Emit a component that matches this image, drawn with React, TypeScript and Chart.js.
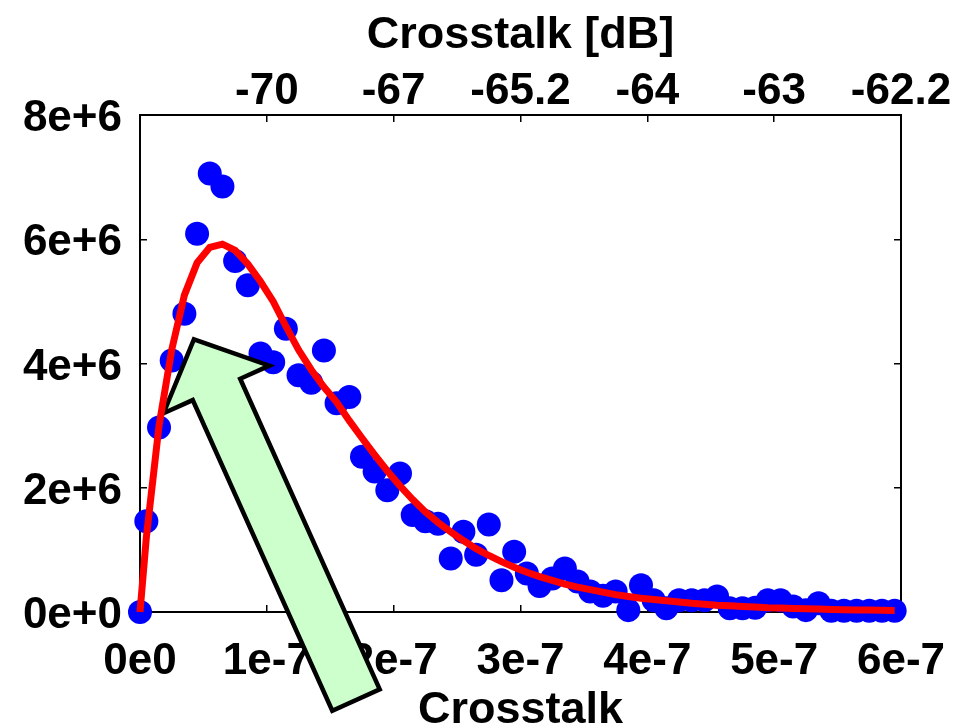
import { useEffect, useRef } from "react";
import { Chart, registerables } from "chart.js";

Chart.register(...registerables);

// Crosstalk (linear) at each bin centre
const crosstalk = [
  0, 0.5e-8, 1.5e-8, 2.5e-8, 3.5e-8, 4.5e-8, 5.5e-8, 6.5e-8, 7.5e-8, 8.5e-8, 9.5e-8,
  10.5e-8, 11.5e-8, 12.5e-8, 13.5e-8, 14.5e-8, 15.5e-8, 16.5e-8, 17.5e-8, 18.5e-8, 19.5e-8,
  20.5e-8, 21.5e-8, 22.5e-8, 23.5e-8, 24.5e-8, 25.5e-8, 26.5e-8, 27.5e-8, 28.5e-8, 29.5e-8,
  30.5e-8, 31.5e-8, 32.5e-8, 33.5e-8, 34.5e-8, 35.5e-8, 36.5e-8, 37.5e-8, 38.5e-8, 39.5e-8,
  40.5e-8, 41.5e-8, 42.5e-8, 43.5e-8, 44.5e-8, 45.5e-8, 46.5e-8, 47.5e-8, 48.5e-8, 49.5e-8,
  50.5e-8, 51.5e-8, 52.5e-8, 53.5e-8, 54.5e-8, 55.5e-8, 56.5e-8, 57.5e-8, 58.5e-8, 59.5e-8,
];

// Histogram density (millions)
const densityMillions = [
  0, 1.46, 2.97, 4.05, 4.8, 6.09, 7.06, 6.85, 5.65, 5.26, 4.16,
  4.02, 4.56, 3.81, 3.69, 4.21, 3.36, 3.46, 2.5, 2.26, 1.96,
  2.23, 1.56, 1.46, 1.42, 0.86, 1.29, 0.92, 1.41, 0.51, 0.97,
  0.62, 0.42, 0.54, 0.7, 0.49, 0.33, 0.26, 0.33, 0.03, 0.43,
  0.19, 0.06, 0.19, 0.19, 0.19, 0.25, 0.06, 0.06, 0.07, 0.19,
  0.19, 0.09, 0.03, 0.14, 0.02, 0.02, 0.02, 0.02, 0.02, 0.02,
];

// Fitted curve (millions)
const fitMillions = [
  0, 1.2, 3.0, 4.22, 5.1, 5.62, 5.87, 5.92, 5.82, 5.6, 5.32,
  5.0, 4.6, 4.22, 3.9, 3.62, 3.38, 3.08, 2.8, 2.53, 2.27,
  2.03, 1.81, 1.61, 1.44, 1.29, 1.15, 1.02, 0.91, 0.81, 0.72,
  0.64, 0.57, 0.51, 0.45, 0.4, 0.36, 0.32, 0.28, 0.25, 0.22,
  0.2, 0.18, 0.16, 0.14, 0.125, 0.11, 0.1, 0.09, 0.08, 0.07,
  0.065, 0.058, 0.052, 0.047, 0.042, 0.038, 0.034, 0.031, 0.028, 0.025,
];

const xTickValues = [0, 1e-7, 2e-7, 3e-7, 4e-7, 5e-7, 6e-7];
const xTickLabels = ["0e0", "1e-7", "2e-7", "3e-7", "4e-7", "5e-7", "6e-7"];
const dbTickLabels = ["", "-70", "-67", "-65.2", "-64", "-63", "-62.2"];
const yTickValues = [0, 2e6, 4e6, 6e6, 8e6];
const yTickLabels = ["0e+0", "2e+6", "4e+6", "6e+6", "8e+6"];

// Annotation arrow (data coordinates)
const arrowTip = { x: 4.25e-8, y: 4.39e6 };
const arrowTail = { x: 1.703e-7, y: -1.417e6 };

const FONT = "'Liberation Sans', Arial, sans-serif";
const tickFont = { family: FONT, size: 44, weight: "bold" as const, lineHeight: 1 };
const titleFont = { family: FONT, size: 45, weight: "bold" as const, lineHeight: 1 };

const arrowPlugin = {
  id: "arrowAnnotation",
  beforeDatasetDraw(chart: any, args: any) {
    if (args.index !== 0) return;
    const xs = chart.scales.x;
    const ys = chart.scales.y;
    const tx = xs.getPixelForValue(arrowTip.x);
    const ty = ys.getPixelForValue(arrowTip.y);
    const bx = xs.getPixelForValue(arrowTail.x);
    const by = ys.getPixelForValue(arrowTail.y);
    const len = Math.hypot(bx - tx, by - ty);
    const ux = (bx - tx) / len;
    const uy = (by - ty) / len;
    const nx = -uy;
    const ny = ux;
    const headLen = 55;
    const headHalf = 58;
    const shaftHalf = 26;
    const hx = tx + ux * headLen;
    const hy = ty + uy * headLen;
    const ctx = chart.ctx;
    ctx.save();
    ctx.beginPath();
    ctx.moveTo(tx, ty);
    ctx.lineTo(hx + nx * headHalf, hy + ny * headHalf);
    ctx.lineTo(hx + nx * shaftHalf, hy + ny * shaftHalf);
    ctx.lineTo(bx + nx * shaftHalf, by + ny * shaftHalf);
    ctx.lineTo(bx - nx * shaftHalf, by - ny * shaftHalf);
    ctx.lineTo(hx - nx * shaftHalf, hy - ny * shaftHalf);
    ctx.lineTo(hx - nx * headHalf, hy - ny * headHalf);
    ctx.closePath();
    ctx.fillStyle = "#ccffcc";
    ctx.fill();
    ctx.lineWidth = 4.5;
    ctx.lineJoin = "miter";
    ctx.miterLimit = 10;
    ctx.strokeStyle = "#000000";
    ctx.stroke();
    ctx.restore();
  },
};

export default function App() {
  const ref = useRef<HTMLCanvasElement | null>(null);

  useEffect(() => {
    if (!ref.current) return;
    const points = crosstalk.map((x, i) => ({ x, y: densityMillions[i] * 1e6 }));
    const fit = crosstalk.map((x, i) => ({ x, y: fitMillions[i] * 1e6 }));

    const gridCommon = {
      drawOnChartArea: false,
      drawTicks: true,
      tickLength: -7,
      color: "#000000",
      lineWidth: 1.5,
    };
    const border = { display: true, color: "#000000", width: 2 };
    const noPad = (s: any) => {
      s.paddingLeft = 0;
      s.paddingRight = 0;
      s.paddingTop = 0;
      s.paddingBottom = 0;
    };

    const chart = new Chart(ref.current, {
      type: "scatter",
      data: {
        datasets: [
          {
            label: "fit",
            data: fit,
            showLine: true,
            borderColor: "#ff0000",
            borderWidth: 7,
            pointRadius: 0,
            tension: 0,
            clip: false,
            order: 0,
          } as any,
          {
            label: "density",
            data: points,
            backgroundColor: "#0000ff",
            borderWidth: 0,
            pointRadius: 12,
            clip: false,
            order: 1,
          } as any,
        ],
      },
      options: {
        animation: false,
        responsive: false,
        maintainAspectRatio: false,
        events: [],
        layout: { padding: 0 },
        plugins: {
          legend: { display: false },
          tooltip: { enabled: false },
        },
        scales: {
          x: {
            type: "linear",
            position: "bottom",
            min: 0,
            max: 6e-7,
            afterBuildTicks: (s: any) => {
              s.ticks = xTickValues.map((v) => ({ value: v }));
            },
            afterFit: (s: any) => {
              s.height = 116;
              noPad(s);
            },
            ticks: {
              callback: (_v: any, i: number) => xTickLabels[i],
              font: tickFont,
              color: "#000000",
              padding: 35,
              maxRotation: 0,
              autoSkip: false,
            },
            grid: gridCommon,
            border,
            title: {
              display: true,
              text: "Crosstalk",
              font: titleFont,
              color: "#000000",
              padding: { top: 0, bottom: -5 },
            },
          },
          x2: {
            type: "linear",
            position: "top",
            min: 0,
            max: 6e-7,
            afterBuildTicks: (s: any) => {
              s.ticks = xTickValues.map((v) => ({ value: v }));
            },
            afterFit: (s: any) => {
              s.height = 115;
              noPad(s);
            },
            ticks: {
              callback: (_v: any, i: number) => dbTickLabels[i],
              font: tickFont,
              color: "#000000",
              padding: 8,
              maxRotation: 0,
              autoSkip: false,
            },
            grid: gridCommon,
            border,
            title: {
              display: true,
              text: "Crosstalk [dB]",
              font: titleFont,
              color: "#000000",
              padding: { top: 13, bottom: 0 },
            },
          },
          y: {
            type: "linear",
            position: "left",
            min: 0,
            max: 8e6,
            afterBuildTicks: (s: any) => {
              s.ticks = yTickValues.map((v) => ({ value: v }));
            },
            afterFit: (s: any) => {
              s.width = 140;
              noPad(s);
            },
            ticks: {
              callback: (_v: any, i: number) => yTickLabels[i],
              font: tickFont,
              color: "#000000",
              padding: 25,
              labelOffset: 4,
              autoSkip: false,
            },
            grid: gridCommon,
            border,
          },
          y2: {
            type: "linear",
            position: "right",
            min: 0,
            max: 8e6,
            afterBuildTicks: (s: any) => {
              s.ticks = yTickValues.map((v) => ({ value: v }));
            },
            afterFit: (s: any) => {
              s.width = 59;
              noPad(s);
            },
            ticks: { display: false },
            grid: gridCommon,
            border,
          },
        },
      },
      plugins: [arrowPlugin],
    });
    return () => chart.destroy();
  }, []);

  return (
    <div style={{ position: "absolute", left: 0, top: 0, width: 960, height: 728, background: "#ffffff" }}>
      <canvas ref={ref} width={960} height={728} style={{ display: "block" }} />
    </div>
  );
}
